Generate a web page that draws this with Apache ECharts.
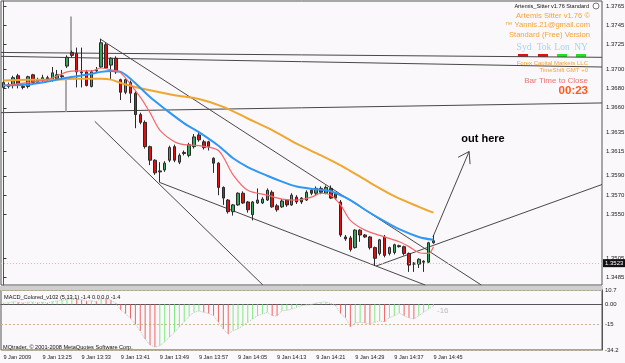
<!DOCTYPE html>
<html>
<head>
<meta charset="utf-8">
<script src="https://cdn.jsdelivr.net/npm/echarts@6/dist/echarts.min.js"></script>
<style>
  html, body { margin: 0; padding: 0; background: #faf8fa; }
  #chart { width: 625px; height: 363px; }
</style>
</head>
<body>
<div id="chart"></div>
<script>
// 1-minute bars, 13:17 .. 14:45; [open, close, low, high]
const ohlc = [
  [1.3681, 1.3686, 1.3679, 1.3688], [1.3684, 1.3682, 1.3680, 1.3686], [1.3683, 1.3691, 1.3680, 1.3693],
  [1.3693, 1.3683, 1.3680, 1.3695], [1.3682, 1.3681, 1.3679, 1.3684], [1.3682, 1.3692, 1.3680, 1.3693],
  [1.3694, 1.3686, 1.3684, 1.3695], [1.3686, 1.3689, 1.3685, 1.3691], [1.3688, 1.3691, 1.3687, 1.3694],
  [1.3691, 1.3689, 1.3687, 1.3693], [1.3689, 1.3696, 1.3687, 1.3702], [1.3690, 1.3694, 1.3689, 1.3699],
  [1.3693, 1.3692, 1.3690, 1.3699], [1.3703, 1.3712, 1.3701, 1.3714], [1.3717, 1.3714, 1.3712, 1.3719],
  [1.3716, 1.3697, 1.3681, 1.3722], [1.3697, 1.3696, 1.3681, 1.3722], [1.3697, 1.3683, 1.3682, 1.3699],
  [1.3682, 1.3697, 1.3681, 1.3699], [1.3698, 1.3699, 1.3697, 1.3702], [1.3702, 1.3727, 1.3701, 1.3731],
  [1.3725, 1.3701, 1.3700, 1.3727], [1.3704, 1.3711, 1.3689, 1.3712], [1.3711, 1.3697, 1.3695, 1.3713],
  [1.3689, 1.3676, 1.3668, 1.3690], [1.3676, 1.3689, 1.3674, 1.3690], [1.3686, 1.3675, 1.3665, 1.3688],
  [1.3675, 1.3653, 1.3639, 1.3677], [1.3653, 1.3645, 1.3643, 1.3655], [1.3645, 1.3620, 1.3618, 1.3647],
  [1.3620, 1.3606, 1.3601, 1.3621], [1.3606, 1.3593, 1.3591, 1.3607], [1.3594, 1.3595, 1.3583, 1.3604],
  [1.3596, 1.3603, 1.3594, 1.3605], [1.3606, 1.3619, 1.3604, 1.3621], [1.3620, 1.3606, 1.3604, 1.3622],
  [1.3604, 1.3611, 1.3602, 1.3613], [1.3614, 1.3613, 1.3611, 1.3616], [1.3611, 1.3622, 1.3609, 1.3624],
  [1.3620, 1.3630, 1.3618, 1.3633], [1.3632, 1.3627, 1.3625, 1.3634], [1.3625, 1.3619, 1.3617, 1.3627],
  [1.3625, 1.3620, 1.3616, 1.3626], [1.3608, 1.3603, 1.3593, 1.3609], [1.3603, 1.3578, 1.3570, 1.3604],
  [1.3578, 1.3567, 1.3560, 1.3579], [1.3565, 1.3553, 1.3551, 1.3566], [1.3553, 1.3560, 1.3549, 1.3561],
  [1.3560, 1.3572, 1.3559, 1.3573], [1.3572, 1.3562, 1.3561, 1.3574], [1.3563, 1.3555, 1.3552, 1.3564],
  [1.3550, 1.3563, 1.3544, 1.3564], [1.3562, 1.3565, 1.3561, 1.3577], [1.3562, 1.3566, 1.3561, 1.3568],
  [1.3565, 1.3575, 1.3564, 1.3577], [1.3573, 1.3558, 1.3557, 1.3575], [1.3559, 1.3555, 1.3553, 1.3561],
  [1.3558, 1.3564, 1.3557, 1.3566], [1.3565, 1.3560, 1.3558, 1.3566], [1.3560, 1.3570, 1.3559, 1.3572],
  [1.3568, 1.3563, 1.3561, 1.3570], [1.3567, 1.3563, 1.3561, 1.3568], [1.3565, 1.3573, 1.3564, 1.3575],
  [1.3575, 1.3572, 1.3570, 1.3577], [1.3572, 1.3577, 1.3570, 1.3579], [1.3577, 1.3573, 1.3571, 1.3579],
  [1.3572, 1.3578, 1.3571, 1.3580], [1.3577, 1.3567, 1.3566, 1.3580], [1.3572, 1.3567, 1.3565, 1.3573],
  [1.3563, 1.3529, 1.3527, 1.3565], [1.3527, 1.3525, 1.3523, 1.3529], [1.3526, 1.3514, 1.3512, 1.3528],
  [1.3516, 1.3534, 1.3515, 1.3535], [1.3534, 1.3529, 1.3522, 1.3535], [1.3529, 1.3527, 1.3526, 1.3530],
  [1.3527, 1.3516, 1.3514, 1.3528], [1.3516, 1.3505, 1.3497, 1.3517], [1.3510, 1.3524, 1.3508, 1.3525],
  [1.3527, 1.3508, 1.3506, 1.3529], [1.3510, 1.3516, 1.3508, 1.3517], [1.3511, 1.3519, 1.3509, 1.3520],
  [1.3518, 1.3517, 1.3516, 1.3519], [1.3517, 1.3510, 1.3508, 1.3518], [1.3510, 1.3498, 1.3491, 1.3511],
  [1.3500, 1.3499, 1.3491, 1.3501], [1.3499, 1.3504, 1.3495, 1.3505], [1.3502, 1.3501, 1.3491, 1.3503],
  [1.3501, 1.3521, 1.3500, 1.3522], [1.3521, 1.3523, 1.3520, 1.3529]
];

// MACD_Colored (5,13,1) histogram, one value per bar
const macd = [
  1, 1.2, 2, 1.6, 1, 1.5, 1.8, 1.2, 1.5, 1, 2, 2.5, 3, 3.6, 4.5, 4, 3.4, 2.4, 2.6, 2.2,
  4.4, 4, 3.3, 0.8, -4.2, -7, -10.7, -15, -20, -26, -30.5, -32, -31, -28, -24.5, -21, -17, -13, -9, -6,
  -5, -6, -6.8, -8.5, -13.5, -18.5, -22.3, -19.7, -18.5, -16, -13.5, -11, -8.5, -7.3, -6, -8.5, -8.8, -4.8, -4.5, -3.5,
  -2.3, -1, -0.5, -0.3, 1, 1.5, 1.7, 0.5, -1, -7, -10, -17, -14, -13.5, -14, -14.5, -13.5, -12.5, -13, -10,
  -8.5, -6.5, -8.5, -10, -11, -8.5, -6, -3.5, -1.4
];

// moving averages: [bar index, price]
const maSlow = [[0, 1.3688], [5, 1.3689], [10, 1.3689], [15, 1.3690], [20, 1.3690], [22, 1.3689], [25, 1.3684],
  [30, 1.3678], [35, 1.3673], [40, 1.3669], [45, 1.3661], [50, 1.3649], [55, 1.3637], [60, 1.3623], [65, 1.3611],
  [70, 1.3598], [75, 1.3583], [80, 1.3569], [85, 1.3558], [88, 1.3552]];
const maMid = [[0, 1.3683], [5, 1.3684], [9, 1.3687], [13, 1.3691], [17, 1.3694], [20, 1.3697], [22, 1.3698],
  [24, 1.3697], [26, 1.3690], [30, 1.3671], [33, 1.3659], [37, 1.3644], [40, 1.3635], [44, 1.3621], [47, 1.3608],
  [50, 1.3599], [54, 1.3590], [57, 1.3584], [60, 1.3579], [64, 1.3576], [67, 1.3574], [71, 1.3565], [74, 1.3555],
  [78, 1.3543], [81, 1.3535], [85, 1.3527], [88, 1.3524]];
const maFast = [[0, 1.3683], [5, 1.3686], [9, 1.3689], [11, 1.3693], [13, 1.3697], [15, 1.3698], [18, 1.3698],
  [20, 1.3701], [22, 1.3699], [24, 1.3696], [28, 1.3671], [30, 1.3655], [32, 1.3637], [35, 1.3625], [37, 1.3622],
  [40, 1.3621], [44, 1.3616], [47, 1.3591], [50, 1.3575], [54, 1.3570], [57, 1.3566], [60, 1.3565], [63, 1.3568],
  [65, 1.3572], [67, 1.3570], [69, 1.3560], [71, 1.3544], [74, 1.3534], [78, 1.3527], [81, 1.3522], [83, 1.3517],
  [85, 1.3511], [87, 1.3510], [88, 1.3517]];

// hand drawn objects, [bar index, price] end points
const trendLines = [
  [[19.76, 1.3731], [97.8, 1.34775]],
  [[18.7, 1.3646], [53.1, 1.34775]],
  [[32.04, 1.3583], [86.3, 1.34775]],
  [[76.25, 1.3497], [122.5, 1.3581]],
  [[-0.5, 1.3717], [122.5, 1.3712]],
  [[-0.5, 1.3713], [122.5, 1.3702]],
  [[-0.5, 1.3655], [122.5, 1.3665]],
  [[87.9, 1.3527], [95.3, 1.3615]],
  [[95.3, 1.3615], [93.05, 1.3609]],
  [[95.3, 1.3615], [95.5, 1.3602]]
];
const greyMarks = [
  [[13.83, 1.3754], [13.83, 1.3716]],
  [[12.8, 1.3689], [12.8, 1.3656]]
];

const bid = 1.3523;
const priceTicks = [1.3765, 1.3745, 1.3725, 1.3700, 1.3680, 1.3660, 1.3635, 1.3615, 1.3590, 1.3570, 1.3550, 1.3505, 1.3485];
const macdTicks = [10.7, 0, -15, -34.2];
const macdTickText = ['10.7', '0.00', '-15', '-34.2'];
const timeTickIdx = [0, 8, 16, 24, 32, 40, 48, 56, 64, 72, 80, 88];
const timeTickText = ['9 Jan 2009', '9 Jan 13:25', '9 Jan 13:33', '9 Jan 13:41', '9 Jan 13:49', '9 Jan 13:57',
  '9 Jan 14:05', '9 Jan 14:13', '9 Jan 14:21', '9 Jan 14:29', '9 Jan 14:37', '9 Jan 14:45'];

const nSlots = 123; // bar slots across the window, right part is empty
const slots = Array.from({length: nSlots}, (_, i) => String(i));

const FONT = 'Liberation Sans';
const chart = echarts.init(document.getElementById('chart'), null, {renderer: 'canvas'});

function txt(x, y, text, size, fill, opts = {}) {
  return {
    type: 'text', x: x, y: y, silent: true, z: 100,
    style: Object.assign({
      text: text, fill: fill, font: size + 'px "' + FONT + '"',
      align: 'left', verticalAlign: 'middle'
    }, opts)
  };
}

chart.setOption({
  animation: false,
  backgroundColor: '#faf8fa',
  textStyle: {fontFamily: FONT},
  grid: [
    {left: 1, top: 1, width: 601, height: 284, show: true, borderColor: '#555', borderWidth: 1, containLabel: false, outerBoundsMode: 'none'},
    {left: 1, top: 290, width: 601, height: 60, show: true, borderColor: '#555', borderWidth: 1, containLabel: false, outerBoundsMode: 'none'}
  ],
  xAxis: [
    {type: 'category', gridIndex: 0, data: slots, show: false},
    {
      type: 'category', gridIndex: 1, data: slots,
      axisLine: {lineStyle: {color: '#555'}},
      axisTick: {alignWithLabel: true, length: 3, interval: i => timeTickIdx.includes(i), lineStyle: {color: '#333'}},
      axisLabel: {
        interval: i => timeTickIdx.includes(i),
        formatter: (v, i) => timeTickText[timeTickIdx.indexOf(Number(v))] || '',
        align: 'left', fontSize: 5.6, color: '#222', margin: 4
      },
      splitLine: {show: false}
    },
    {type: 'value', gridIndex: 0, min: -0.5, max: nSlots - 0.5, show: false}
  ],
  yAxis: [
    {
      type: 'value', gridIndex: 0, position: 'right', min: 1.34775, max: 1.3770, scale: true,
      axisLine: {show: true, lineStyle: {color: '#555'}},
      axisTick: {show: true, length: 3, customValues: priceTicks, lineStyle: {color: '#333'}},
      axisLabel: {customValues: priceTicks, formatter: v => v.toFixed(4), fontSize: 6, color: '#222', margin: 4},
      splitLine: {show: false}
    },
    {
      type: 'value', gridIndex: 1, position: 'right', min: -34.2, max: 10.7,
      axisLine: {show: true, lineStyle: {color: '#555'}},
      axisTick: {show: false, customValues: macdTicks},
      axisLabel: {
        customValues: macdTicks,
        formatter: v => macdTickText[macdTicks.findIndex(t => Math.abs(t - v) < 1e-6)] || '',
        fontSize: 6, color: '#222', margin: 3
      },
      splitLine: {show: true, lineStyle: {type: [2, 2], color: '#c9b48e', width: 1}}
    }
  ],
  series: [
    {
      type: 'candlestick', xAxisIndex: 0, yAxisIndex: 0, data: ohlc, barWidth: 3,
      itemStyle: {color: '#3aa35c', color0: '#e01010', borderColor: '#2a2a2a', borderColor0: '#2a2a2a', borderColorDoji: '#2a2a2a', borderWidth: 1},
      markLine: {
        silent: true, symbol: 'none', animation: false,
        data: [{yAxis: bid}],
        lineStyle: {type: [1, 2], color: '#dcc09c', width: 1},
        label: {position: 'end', formatter: bid.toFixed(4), color: '#fff', backgroundColor: '#111', fontSize: 6, padding: [1, 2, 1, 2], distance: 1}
      }
    },
    {type: 'line', xAxisIndex: 2, yAxisIndex: 0, data: maSlow, smooth: 0.3, showSymbol: false, lineStyle: {color: '#efa72f', width: 2}},
    {type: 'line', xAxisIndex: 2, yAxisIndex: 0, data: maMid, smooth: 0.3, showSymbol: false, lineStyle: {color: '#2f97f5', width: 2}},
    {type: 'line', xAxisIndex: 2, yAxisIndex: 0, data: maFast, smooth: 0.3, showSymbol: false, lineStyle: {color: '#f5676a', width: 1.2}},
    {
      type: 'lines', coordinateSystem: 'cartesian2d', xAxisIndex: 2, yAxisIndex: 0,
      data: trendLines.map(c => ({coords: c})),
      lineStyle: {color: '#484848', width: 1, opacity: 1, curveness: 0}
    },
    {
      type: 'lines', coordinateSystem: 'cartesian2d', xAxisIndex: 2, yAxisIndex: 0,
      data: greyMarks.map(c => ({coords: c})),
      lineStyle: {color: '#aaaaaa', width: 2, opacity: 1, curveness: 0}
    },
    {
      type: 'bar', xAxisIndex: 1, yAxisIndex: 1, barWidth: 1,
      data: macd.map((v, i) => ({value: v, itemStyle: {color: i > 0 && v < macd[i - 1] ? '#f26262' : '#80ea80'}}))
    },
    {
      type: 'line', xAxisIndex: 1, yAxisIndex: 1, data: macd, showSymbol: false,
      lineStyle: {type: 'dotted', color: '#c4c4c4', width: 1}
    }
  ],
  graphic: [
    {type: 'rect', shape: {x: 0, y: 286, width: 603, height: 4}, style: {fill: '#cfcfcf'}, silent: true},
    txt(589, 6, 'Artemis_Sitter v1.76 Standard', 5.6, '#111', {align: 'right'}),
    {type: 'circle', shape: {cx: 596, cy: 6, r: 3}, style: {fill: '#fff', stroke: '#777', lineWidth: 1}, silent: true},
    txt(590, 16, 'Artemis Sitter v1.76 \u00a9', 7.6, '#f5a33a', {align: 'right'}),
    txt(590, 25, '\u2122 Yannis.21@gmail.com', 7.6, '#f5a33a', {align: 'right'}),
    txt(590, 35, 'Standard (Free) Version', 7.6, '#f5a33a', {align: 'right'}),
    {type: 'text', x: 524, y: 47, silent: true, style: {text: 'Syd', fill: '#a5d4ee', font: '9.5px "Liberation Serif"', align: 'center', verticalAlign: 'middle'}},
    {type: 'text', x: 544, y: 47, silent: true, style: {text: 'Tok', fill: '#a5d4ee', font: '9.5px "Liberation Serif"', align: 'center', verticalAlign: 'middle'}},
    {type: 'text', x: 562, y: 47, silent: true, style: {text: 'Lon', fill: '#a5d4ee', font: '9.5px "Liberation Serif"', align: 'center', verticalAlign: 'middle'}},
    {type: 'text', x: 581, y: 47, silent: true, style: {text: 'NY', fill: '#a5d4ee', font: '9.5px "Liberation Serif"', align: 'center', verticalAlign: 'middle'}},
    {type: 'rect', shape: {x: 518, y: 54, width: 10, height: 3}, style: {fill: '#e01010'}, silent: true},
    {type: 'rect', shape: {x: 538, y: 54, width: 10, height: 3}, style: {fill: '#e01010'}, silent: true},
    {type: 'rect', shape: {x: 557, y: 54, width: 10, height: 3}, style: {fill: '#22e022'}, silent: true},
    {type: 'rect', shape: {x: 576, y: 54, width: 10, height: 3}, style: {fill: '#22e022'}, silent: true},
    txt(588, 63.5, 'Forex Capital Markets LLC', 6, '#f5a33a', {align: 'right'}),
    txt(588, 70.5, 'TimeShift GMT +0', 6, '#f5a33a', {align: 'right'}),
    txt(588, 81, 'Bar Time to Close', 8, '#f07272', {align: 'right'}),
    {type: 'text', x: 588, y: 91, silent: true, style: {text: '00:23', fill: '#ff5a1e', font: 'bold 11.5px "' + FONT + '"', align: 'right', verticalAlign: 'middle'}},
    {type: 'text', x: 483, y: 139, silent: true, style: {text: 'out here', fill: '#000', font: 'bold 11px "' + FONT + '"', align: 'center', verticalAlign: 'middle'}},
    txt(4, 297, 'MACD_Colored_v102 (5,13,1) -1.4 0.0 0.0 -1.4', 5.6, '#111'),
    txt(3, 347, 'MQtrader, \u00a9 2001-2008 MetaQuotes Software Corp.', 5.6, '#111'),
    txt(437, 311, '-16', 8, '#bdbdbd')
  ]
});
</script>
</body>
</html>
